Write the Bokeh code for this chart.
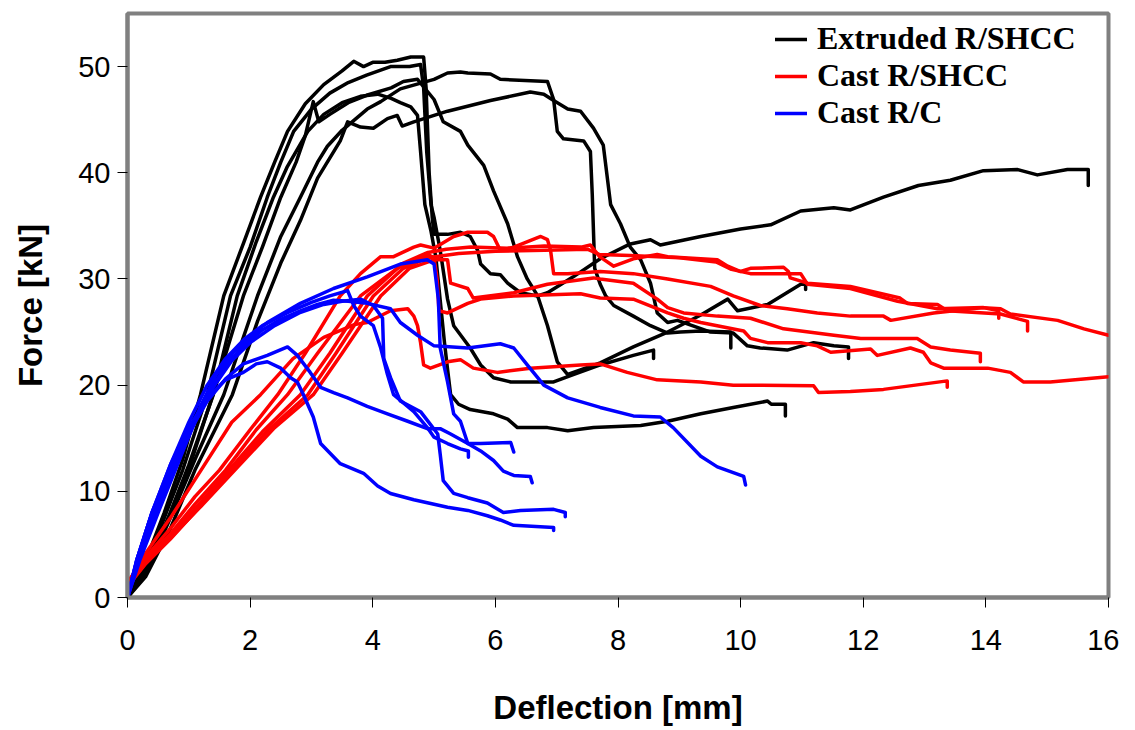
from bokeh.plotting import figure
from bokeh.models import Legend, LegendItem, Range1d, FixedTicker
from bokeh.embed import file_html
from bokeh.resources import INLINE

# ---------------- data (deflection [mm], force [kN]) ----------------
x_ticks = [0, 2, 4, 6, 8, 10, 12, 14, 16]
y_ticks = [0, 10, 20, 30, 40, 50]
series_names = ["Extruded R/SHCC", "Cast R/SHCC", "Cast R/C"]
series_colors = ["#000000", "#FF0000", "#0000FF"]

ext_1 = [(0, 0), (0.1, 1), (0.3, 3.5), (0.6, 8), (0.9, 13), (1.19, 19.1), (1.57, 28.4), (1.9, 33.5),
         (2.17, 37.7), (2.4, 41), (2.61, 43.9), (2.9, 46.5), (3.2, 48.3), (3.5, 49.6), (3.69, 50.5),
         (3.85, 50.0), (4.0, 50.4), (4.2, 50.4), (4.4, 50.6), (4.62, 50.9), (4.83, 50.9), (4.87, 48),
         (4.92, 40), (4.97, 35.8), (5.0, 34.2), (5.22, 34.2), (5.43, 34.4), (5.59, 34.0), (5.71, 32.7),
         (5.76, 31.4), (5.92, 30.5), (6.08, 30.4), (6.2, 29.6), (6.41, 28.7), (6.69, 28.4), (6.85, 28.7),
         (7.27, 30.2), (7.71, 31.9), (8.2, 33.3), (8.53, 33.7), (8.69, 33.2), (9.35, 34.0), (10.0, 34.7),
         (10.49, 35.1), (10.98, 36.4), (11.52, 36.7), (11.79, 36.5), (12.33, 37.7), (12.9, 38.8),
         (13.42, 39.3), (13.96, 40.2), (14.52, 40.3), (14.84, 39.8), (15.33, 40.3), (15.67, 40.3),
         (15.67, 38.8)]
ext_2 = [(0, 0), (0.3, 3), (0.6, 7.5), (0.9, 12), (1.3, 19.1), (1.68, 28.4), (2.0, 33), (2.28, 37.7),
         (2.5, 41), (2.71, 43.9), (3.0, 46), (3.3, 47.5), (3.6, 48.5), (3.9, 49.2), (4.29, 50.0),
         (4.6, 50.0), (4.78, 50.2), (4.83, 48), (4.88, 42), (4.95, 37), (5.0, 35.8), (5.1, 32.7),
         (5.22, 28.1), (5.32, 25.6), (5.59, 23.5), (5.76, 21.9), (5.97, 20.7), (6.25, 20.3), (6.95, 20.3),
         (7.27, 21.0), (7.71, 21.9), (8.25, 22.8), (8.58, 23.3), (8.58, 22.5)]
ext_3 = [(0, 0), (0.3, 2.5), (0.7, 8), (1.0, 12.5), (1.4, 19.1), (1.79, 28.4), (2.1, 33.5), (2.38, 37.7),
         (2.6, 40.5), (2.94, 43.9), (3.2, 45.5), (3.5, 46.6), (3.8, 47.2), (4.08, 47.4), (4.3, 47.0),
         (4.45, 46.6), (4.62, 46.2), (4.73, 45.4), (4.78, 42), (4.85, 37), (4.95, 34.5), (5.03, 32),
         (5.1, 28), (5.17, 24), (5.22, 21.5), (5.27, 19.1), (5.4, 18.2), (5.59, 17.7), (5.97, 17.3),
         (6.2, 16.8), (6.36, 16.0), (6.85, 16.0), (7.18, 15.7), (7.6, 16.0), (8.37, 16.2), (8.81, 16.6),
         (9.35, 17.3), (9.88, 17.9), (10.44, 18.5), (10.5, 18.2), (10.73, 18.2), (10.73, 17.1)]
ext_4 = [(0, 0), (0.3, 2.5), (0.7, 8), (1.05, 13), (1.5, 21), (1.89, 28.4), (2.2, 33), (2.5, 37.7),
         (2.75, 41), (2.9, 43.5), (3.03, 46.7), (3.12, 44.8), (3.3, 45.5), (3.6, 46.6), (3.9, 47.3),
         (4.3, 48.0), (4.5, 48.6), (4.73, 48.8), (5.0, 46.9), (5.15, 44.8), (5.43, 43.9), (5.55, 42.6),
         (5.81, 40.7), (5.97, 38.3), (6.2, 35.2), (6.36, 32.1), (6.52, 30.0), (6.69, 28.4), (6.85, 25.6),
         (7.01, 22.2), (7.18, 21.0), (7.71, 22.1), (8.25, 23.6), (8.81, 25.0), (9.35, 26.6), (9.79, 28.1),
         (9.95, 27.0), (10.44, 27.6), (10.98, 29.5), (11.06, 29.5), (11.06, 29.0)]
ext_5 = [(0, 0), (0.3, 2.2), (0.7, 7.5), (1.1, 13), (1.57, 19.1), (2.12, 28.4), (2.5, 34), (2.82, 37.7),
         (3.1, 41), (3.26, 42.5), (3.5, 44), (3.91, 46.0), (4.13, 46.7), (4.45, 47.9), (5.0, 48.8),
         (5.22, 49.4), (5.43, 49.5), (5.55, 49.4), (5.92, 49.3), (6.08, 48.8), (6.85, 48.6), (6.95, 46.9),
         (7.01, 43.9), (7.11, 43.2), (7.44, 43.0), (7.55, 42.0), (7.58, 38), (7.62, 31), (7.71, 29.5),
         (7.8, 28.4), (7.93, 27.5), (8.25, 26.5), (8.53, 25.6), (8.81, 24.9), (9.02, 25.0), (9.35, 25.1),
         (9.84, 25.0), (9.84, 23.5)]
ext_6 = [(0, 0), (0.3, 2), (0.7, 6.5), (1.1, 12), (1.71, 19.1), (2.12, 26), (2.5, 31.5), (2.82, 35.5),
         (3.1, 39.5), (3.47, 43.0), (3.59, 44.8), (3.8, 44.3), (4.01, 44.2), (4.24, 45.1), (4.4, 45.4),
         (4.48, 44.4), (4.67, 44.8), (5.0, 45.4), (5.22, 45.8), (5.92, 46.8), (6.57, 47.6), (6.79, 47.4),
         (6.95, 46.8), (7.18, 46.0), (7.39, 45.8), (7.6, 44.2), (7.76, 42.6), (7.88, 37.0), (8.04, 35.2),
         (8.2, 33.0), (8.37, 31.8), (8.53, 29.6), (8.64, 26.8), (8.81, 25.9), (8.97, 26.1), (9.51, 25.0),
         (9.88, 24.9), (10.11, 23.7), (10.32, 23.5), (10.76, 23.3), (11.19, 24.0), (11.52, 23.7),
         (11.76, 23.6), (11.76, 22.5)]

cast_1 = [(0, 0), (0.05, 1.8), (0.3, 3.8), (0.7, 6.5), (1.1, 9.5), (1.5, 12), (2.0, 15.8), (2.45, 19.1),
          (2.9, 23), (3.47, 28.4), (3.8, 30.5), (4.13, 32.1), (4.34, 32.1), (4.67, 33.0), (4.78, 33.2),
          (5.0, 32.9), (5.32, 34.0), (5.55, 34.4), (5.87, 34.4), (5.97, 34.0), (6.08, 32.7), (6.3, 33.0),
          (6.74, 34.0), (6.85, 33.7), (6.9, 32.7), (6.95, 30.5), (7.18, 30.5), (7.71, 30.7), (8.25, 30.5),
          (8.81, 30.0), (9.51, 29.3), (9.88, 28.4), (10.32, 27.5), (10.76, 27.2), (11.25, 26.8),
          (11.79, 26.5), (12.33, 26.5), (12.45, 26.1), (13.15, 26.8), (13.96, 27.3), (14.24, 27.2),
          (14.4, 26.7), (15.17, 26.1), (15.6, 25.3), (16.0, 24.7)]
cast_2 = [(0, 0), (0.05, 1.5), (0.3, 3.5), (0.7, 6), (1.1, 8.8), (1.6, 12), (2.1, 15.8), (2.61, 19.1),
          (3.1, 23), (3.8, 28.4), (4.4, 31), (4.9, 32.3), (5.0, 32), (5.05, 30), (5.08, 27), (5.22, 26.8),
          (5.55, 27.7), (5.76, 28.1), (6.3, 28.4), (7.39, 28.6), (7.71, 28.2), (8.25, 28.1), (8.81, 26.8),
          (9.07, 26.3), (9.35, 25.9), (10.05, 25.1), (10.16, 24.4), (10.44, 24.0), (10.98, 24.0),
          (11.25, 23.7), (11.47, 23.1), (12.12, 23.4), (12.23, 22.8), (12.77, 23.5), (12.98, 23.1),
          (13.1, 22.1), (13.31, 21.6), (14.03, 21.6), (14.4, 21.2), (14.61, 20.3), (15.05, 20.3),
          (16.0, 20.8)]
cast_3 = [(0, 0), (0.05, 1.6), (0.3, 3.4), (0.7, 5.8), (1.2, 9), (1.7, 12.3), (2.2, 15.6), (2.82, 19.1),
          (3.3, 23), (3.91, 28.4), (4.5, 31.5), (4.9, 32.5), (5.2, 32.8), (5.6, 33.0), (6.2, 32.9),
          (6.8, 33.1), (7.4, 33.0), (7.55, 33.2), (7.7, 32.1), (7.93, 31.2), (8.25, 31.9), (8.64, 32.3),
          (8.81, 32.1), (9.62, 31.8), (9.79, 31.2), (10.0, 30.7), (10.16, 31.0), (10.7, 31.1),
          (10.78, 30.7), (10.81, 30.1), (11.09, 29.6), (11.79, 29.3), (12.6, 28.2), (12.72, 27.7),
          (13.21, 27.6), (13.37, 27.0), (14.24, 26.7), (14.68, 26.0), (14.68, 25.1)]
cast_4 = [(0, 0), (0.05, 1.4), (0.3, 3.2), (0.7, 5.5), (1.2, 8.7), (1.7, 12), (2.3, 15.8), (2.94, 19.1),
          (3.4, 23), (4.01, 28.4), (4.5, 31), (4.9, 32.0), (5.4, 32.4), (6.0, 32.6), (6.8, 32.7),
          (7.5, 32.8), (7.7, 32.3), (8.2, 32.2), (9.0, 32.0), (9.6, 31.6), (9.85, 30.9), (10.16, 30.5),
          (10.98, 30.5), (11.09, 29.5), (11.79, 29.1), (12.56, 27.9), (13.21, 27.2), (13.96, 27.3),
          (14.21, 27.0), (14.21, 26.3)]
cast_5 = [(0, 0), (0.05, 1.5), (0.3, 3.3), (0.7, 5.6), (1.2, 8.6), (1.8, 12.3), (2.4, 16), (3.03, 19.1),
          (3.5, 23), (4.13, 28.4), (4.6, 31), (5.0, 31.8), (5.22, 31.8), (5.27, 29.6), (5.55, 29.1),
          (5.64, 28.2), (6.3, 28.7), (6.85, 29.5), (7.6, 30.1), (7.71, 30.0), (8.25, 29.6), (8.64, 28.1),
          (8.81, 27.3), (9.07, 26.8), (9.62, 26.5), (10.16, 26.3), (10.7, 25.3), (11.52, 24.7),
          (11.96, 24.4), (12.88, 24.4), (13.1, 23.6), (13.42, 23.3), (13.91, 23.0), (13.91, 22.2)]
cast_6 = [(0, 0), (0.05, 1.8), (0.3, 4.2), (0.7, 7.5), (1.2, 12), (1.7, 16.5), (2.17, 19.1), (2.7, 22.5),
          (3.2, 24.5), (3.7, 25.7), (3.91, 25.9), (4.29, 27.0), (4.57, 27.2), (4.67, 26.5), (4.73, 25.6),
          (4.78, 24.0), (4.83, 21.9), (4.94, 21.6), (5.22, 22.2), (5.43, 22.4), (5.64, 21.6), (6.03, 21.2),
          (6.57, 21.6), (7.39, 21.9), (7.71, 22.0), (8.15, 21.2), (8.64, 20.5), (9.35, 20.3), (9.88, 20.0),
          (11.19, 19.95), (11.27, 19.3), (11.79, 19.4), (12.33, 19.6), (13.37, 20.4), (13.37, 19.8)]

rc_1 = [(0, 0), (0.15, 3), (0.4, 7.5), (0.7, 11.5), (1.0, 15.5), (1.3, 19), (1.6, 21.8), (1.9, 23.8),
        (2.2, 25.2), (2.5, 26.2), (2.82, 27.0), (3.1, 27.6), (3.36, 28.0), (3.6, 27.9), (3.91, 27.7),
        (4.29, 27.2), (4.45, 25.9), (4.73, 24.7), (5.0, 23.7), (5.55, 23.5), (6.08, 23.9), (6.3, 23.5),
        (6.52, 21.9), (6.79, 20.0), (7.18, 18.8), (7.71, 17.9), (8.25, 17.1), (8.69, 17.0), (8.9, 16.0),
        (9.35, 13.3), (9.62, 12.3), (10.05, 11.4), (10.08, 10.6)]
rc_2 = [(0, 0), (0.2, 3.8), (0.5, 8.5), (0.8, 12.5), (1.1, 16.5), (1.4, 19.8), (1.7, 22.3), (2.0, 24.0),
        (2.4, 25.6), (2.8, 26.8), (3.2, 27.6), (3.5, 27.9), (3.8, 28.1), (4.01, 27.5), (4.16, 26.3),
        (4.18, 22.5), (4.29, 20.7), (4.45, 18.5), (4.78, 17.5), (4.94, 16.3), (5.06, 15.4), (5.1, 13.5),
        (5.15, 11.0), (5.32, 9.8), (5.55, 9.4), (5.87, 8.9), (6.13, 8.0), (6.41, 8.2), (6.95, 8.3),
        (7.14, 8.0), (7.14, 7.6)]
rc_3 = [(0, 0), (0.15, 3.5), (0.4, 8), (0.7, 12.5), (1.0, 16), (1.3, 18.8), (1.6, 20.5), (1.89, 21.2),
        (2.1, 22.0), (2.28, 22.2), (2.5, 21.6), (2.66, 20.7), (2.77, 20.3), (2.87, 19.1), (3.03, 17.0),
        (3.15, 14.5), (3.47, 12.6), (3.85, 11.7), (4.08, 10.5), (4.29, 9.8), (4.67, 9.2), (5.22, 8.5),
        (5.55, 8.2), (5.87, 7.7), (6.08, 7.3), (6.3, 6.8), (6.95, 6.6), (6.95, 6.3)]
rc_4 = [(0, 0), (0.15, 3.5), (0.4, 8), (0.7, 12), (1.0, 15.5), (1.3, 18.5), (1.6, 20.6), (1.89, 22.0),
        (2.28, 22.8), (2.61, 23.6), (2.77, 22.8), (2.98, 21.2), (3.15, 19.8), (3.36, 19.3), (3.59, 18.8),
        (3.91, 18.0), (4.24, 17.3), (4.57, 16.6), (4.89, 15.9), (5.1, 15.9), (5.27, 15.4), (5.55, 14.5),
        (5.76, 14.5), (6.25, 14.6), (6.3, 13.7)]
rc_5 = [(0, 0), (0.2, 3.5), (0.5, 8), (0.85, 13), (1.19, 18), (1.45, 21), (1.73, 23.1), (2.0, 24.6),
        (2.28, 25.9), (2.82, 27.7), (3.36, 29.1), (3.91, 30.2), (4.45, 31.4), (4.89, 31.8), (5.0, 31.4),
        (5.07, 28.1), (5.1, 23.5), (5.22, 20.3), (5.32, 17.3), (5.43, 16.6), (5.55, 14.5), (5.76, 13.8),
        (5.97, 12.9), (6.13, 11.9), (6.3, 11.5), (6.57, 11.4), (6.6, 10.8)]
rc_6 = [(0, 0), (0.15, 3.5), (0.4, 8), (0.7, 12.5), (1.0, 16.5), (1.3, 20), (1.6, 22.5), (1.9, 24.3),
        (2.2, 25.6), (2.6, 26.8), (3.0, 27.8), (3.3, 28.4), (3.59, 28.9), (3.69, 27.5), (3.8, 26.5),
        (4.01, 25.6), (4.13, 23.5), (4.24, 21.0), (4.34, 19.1), (4.67, 17.5), (4.89, 16.0), (5.0, 15.1),
        (5.22, 14.5), (5.43, 14.0), (5.56, 13.8), (5.56, 13.2)]

groups = [
    [ext_1, ext_2, ext_3, ext_4, ext_5, ext_6],
    [cast_1, cast_2, cast_3, cast_4, cast_5, cast_6],
    [rc_1, rc_2, rc_3, rc_4, rc_5, rc_6],
]

# ---------------- figure ----------------
p = figure(width=1119, height=728, x_range=Range1d(0, 16), y_range=Range1d(0, 55),
           output_backend="svg", toolbar_location=None,
           min_border_left=127, min_border_right=11, min_border_top=13, min_border_bottom=122)
p.xgrid.visible = False
p.ygrid.visible = False
p.background_fill_color = "white"
p.border_fill_color = "white"
p.outline_line_color = "#808080"
p.outline_line_width = 4

first_renderers = []
for curves, color in zip(groups, series_colors):
    rs = []
    for c in curves:
        xs = [pt[0] for pt in c]
        ys = [pt[1] for pt in c]
        rs.append(p.line(xs, ys, line_color=color, line_width=3.5, line_join="round", line_cap="round"))
    first_renderers.append(rs[0])

items = [LegendItem(label=name, renderers=[r]) for name, r in zip(series_names, first_renderers)]

legend = Legend(items=items, location=(648, 466), orientation="vertical",
                border_line_color=None, background_fill_alpha=0,
                label_text_font="Liberation Serif", label_text_font_style="bold",
                label_text_font_size="32px", label_text_color="black",
                glyph_width=32, glyph_height=30, label_height=30, label_standoff=10,
                spacing=0, padding=0, margin=0)
p.add_layout(legend, "center")

p.xaxis.ticker = FixedTicker(ticks=x_ticks)
p.yaxis.ticker = FixedTicker(ticks=y_ticks)
for ax in (p.xaxis, p.yaxis):
    ax.axis_line_color = "#808080"
    ax.axis_line_width = 4
    ax.major_tick_line_color = "black"
    ax.major_tick_line_width = 1
    ax.major_tick_out = 10
    ax.major_tick_in = 0
    ax.minor_tick_line_color = None
    ax.major_label_text_font = "Liberation Sans"
    ax.major_label_text_font_size = "29px"
    ax.major_label_text_color = "black"
    ax.axis_label_text_font = "Liberation Sans"
    ax.axis_label_text_font_style = "bold"
    ax.axis_label_text_font_size = "33px"
    ax.axis_label_text_color = "black"

p.xaxis.axis_label = "Deflection [mm]"
p.yaxis.axis_label = "Force [kN]"
p.xaxis.major_label_standoff = 22
p.yaxis.major_label_standoff = 7
p.xaxis.axis_label_standoff = 36
p.yaxis.axis_label_standoff = 26

open("out.html", "w").write(file_html(p, INLINE))
